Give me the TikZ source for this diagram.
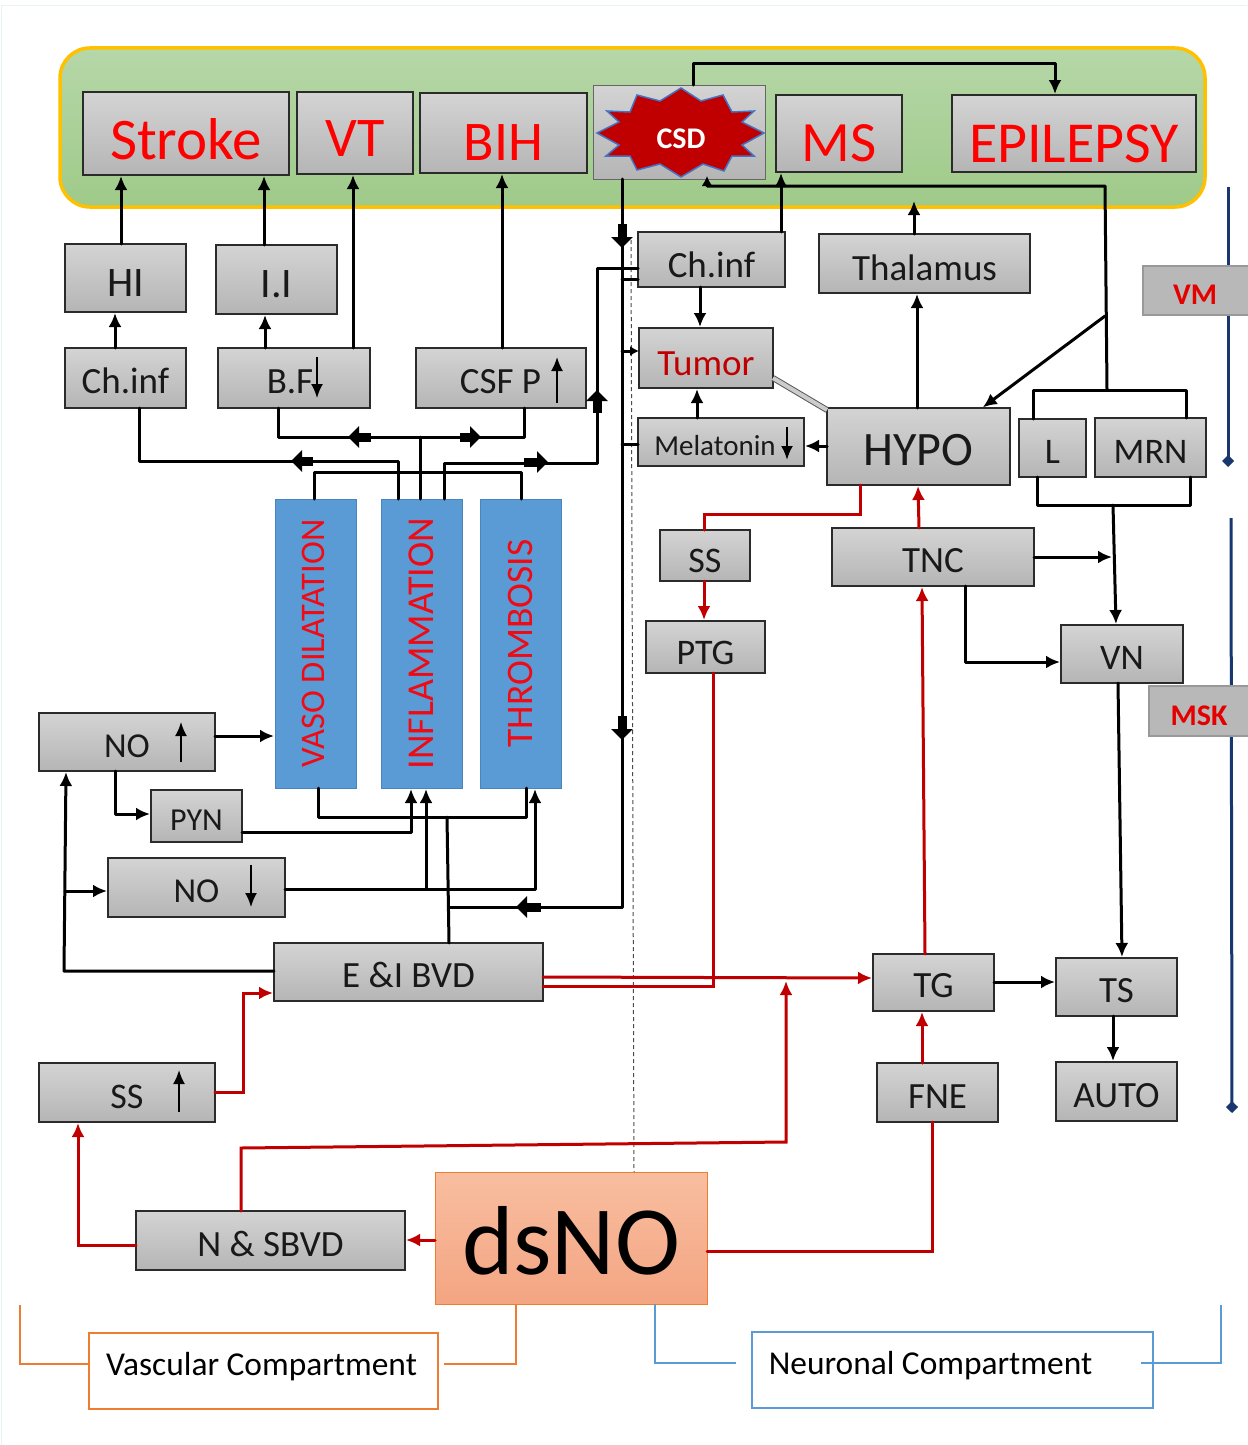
\documentclass[tikz,border=0pt]{standalone}
\usepackage{fontspec}
\usepackage{graphicx}
\setmainfont{Carlito}
\usetikzlibrary{arrows.meta}
\definecolor{dred}{HTML}{C00000}
\definecolor{lred}{HTML}{F00A14}
\definecolor{boxline}{HTML}{2B2B2B}
\definecolor{navyl}{HTML}{17376E}
\definecolor{bluefill}{HTML}{5B9BD5}
\definecolor{blueline}{HTML}{4A86BD}
\definecolor{panelTop}{HTML}{B6D7A8}
\definecolor{panelBot}{HTML}{9FCA89}
\definecolor{orangeL}{HTML}{ED7D31}
\definecolor{blueL}{HTML}{5B9BD5}
\newcommand{\fs}[1]{\fontsize{#1}{#1}\selectfont}
% \dn{N}{text}: set text N px lower than the centre of its box; \upby the reverse
\newcommand{\dn}[2]{\setbox0=\hbox{#2}\rule{0pt}{\dimexpr\ht0+#1pt+#1pt\relax}\box0}
\newcommand{\upby}[2]{\setbox0=\hbox{#2}\rule[\dimexpr-\dp0-#1pt-#1pt\relax]{0pt}{0pt}\box0}
\tikzset{
  box/.style={draw=boxline,line width=1.7pt,top color=black!17,bottom color=black!29,inner sep=0pt,outer sep=0pt,text=black!90},
  greybox/.style={draw=black!40,line width=1.5pt,fill=black!28,inner sep=0pt,outer sep=0pt},
  bluebox/.style={draw=blueline,line width=1pt,fill=bluefill,inner sep=0pt,outer sep=0pt},
  wire/.style={draw=black,line width=3pt,line cap=round,line join=round},
  arr/.style={wire,-{Latex[length=14pt,width=13pt]},shorten >=1pt},
  rwire/.style={draw=dred,line width=3pt,line cap=round,line join=miter},
  rarr/.style={rwire,-{Latex[length=14pt,width=13pt]},shorten >=1pt},
  blk/.style={draw=black,line width=9pt,-{Triangle[length=11pt,width=21pt]}},
  thinarr/.style={draw=black,line width=2pt,-{Latex[length=14pt,width=12pt]}},
  orangewire/.style={draw=orangeL,line width=2.5pt},
  bluewire/.style={draw=blueL,line width=2.5pt},
  navy/.style={navyl,line width=3pt,-{Turned Square[length=12pt,width=12pt]}},
}
\newcommand{\bx}[7][box]{\node[#1,minimum width={(#5-#3)*1pt},minimum height={(#6-#4)*1pt}] (#2) at ({(#3+#5)/2},{(#4+#6)/2}) {#7};}
\begin{document}
\begin{tikzpicture}[x=1pt,y=-1pt]
\useasboundingbox (0,0) rectangle (1247,1445);
\fill[white] (0,0) rectangle (1247,1445);
\coordinate (edgeA) at (1,1445);
\coordinate (edgeB) at (1,6);
\coordinate (edgeC) at (1247,6);
\draw[draw={rgb,255:red,232;green,244;blue,244},line width=1pt] (edgeA) -- (edgeB) -- (edgeC);
% green panel
\node[draw={rgb,255:red,255;green,192;blue,0},line width=3.5pt,top color=panelTop,bottom color=panelBot,rounded corners=30pt,minimum width=1145pt,minimum height=159pt,inner sep=0pt] (panel) at (632.5,127.5) {};
% dashed guide
\coordinate (dashA) at (631,240);
\coordinate (dashB) at (634,1172);
\draw[black!70,line width=1pt,dash pattern=on 4pt off 3pt] (dashA) -- (dashB);
% side rules
\coordinate (vmTop) at (1228,187);
\coordinate (vmEnd) at (1228,467);
\coordinate (mskTop) at (1231,518);
\coordinate (mskEnd) at (1232,1113);
\draw[navy] (vmTop) -- (vmEnd);
\draw[navy] (mskTop) -- (mskEnd);
% boxes
\bx{stroke}{83}{92}{289}{175}{\dn{6}{\fs{59}\textcolor{red}{Stroke}}}
\bx{vt}{297}{92}{413}{174}{\dn{6}{\fs{56}\textcolor{red}{VT}}}
\bx{bih}{420}{93}{587}{173}{\dn{10}{\fs{56}\textcolor{red}{BIH}}}
\bx[box,draw=black!60,line width=1pt]{csd}{593}{85}{765}{179}{}
\bx{ms}{776}{95}{902}{172}{\dn{10}{\fs{57}\textcolor{red}{MS}}}
\bx{epi}{952}{95}{1196}{172}{\dn{10}{\fs{58}\textcolor{red}{EPILEPSY}}}
\bx{hi}{65}{244}{186}{312}{\dn{5}{\fs{42}HI}}
\bx{ii}{216}{245}{337}{314}{\dn{5}{\fs{42}I.I}}
\bx{chl}{65}{348}{186}{408}{\dn{3}{\fs{37}Ch.inf}}
\bx{bf}{218}{348}{370}{408}{\hspace*{-4pt}\dn{4}{\fs{37}B.F}\hspace*{4pt}}
\bx{csf}{416}{348}{586}{408}{\hspace*{-1pt}\dn{4}{\fs{37}CSF P}}
\bx{chr}{638}{232}{785}{287}{\dn{5}{\fs{37}Ch.inf}}
\bx{thal}{819}{234}{1030}{293}{\dn{4}{\fs{37}Thalamus}}
\bx[greybox]{vm}{1143}{266}{1250}{315}{\hspace*{-3pt}\dn{4}{\fs{30}\textcolor{red!90!black}{\bfseries VM}}}
\bx{tumor}{639}{328}{773}{388}{\dn{6}{\fs{37}\textcolor{dred}{Tumor}}}
\bx{mel}{638}{418}{804}{466}{\hspace*{-12pt}\dn{4}{\fs{29}Melatonin}}
\bx{hypo}{827}{408}{1010}{485}{\dn{4}{\fs{48}HYPO}}
\bx{ll}{1019}{419}{1086}{477}{\dn{4}{\fs{36}L}}
\bx{mrn}{1095}{418}{1206}{477}{\dn{4}{\fs{36}MRN}}
\bx{ssa}{660}{530}{750}{581}{\dn{5}{\fs{36}SS}}
\bx{tnc}{832}{528}{1034}{586}{\dn{4}{\fs{37}TNC}}
\bx{ptg}{646}{621}{765}{673}{\dn{6}{\fs{36}PTG}}
\bx{vn}{1061}{625}{1183}{683}{\dn{4}{\fs{36}VN}}
\bx[greybox]{msk}{1149}{686}{1250}{736}{\hspace*{-1pt}\dn{5}{\fs{30}\textcolor{red!90!black}{\bfseries MSK}}}
\bx[bluebox]{vaso}{275}{499}{356}{788}{\hspace*{-5pt}\rotatebox{90}{\fs{34.5}\textcolor{lred}{VASO DILATATION}}}
\bx[bluebox]{infl}{381}{499}{462}{788}{\rotatebox{90}{\fs{38}\textcolor{lred}{INFLAMMATION}}}
\bx[bluebox]{thr}{480}{499}{561}{788}{\rotatebox{90}{\fs{37.5}\textcolor{lred}{THROMBOSIS}}}
\bx{noup}{39}{713}{215}{771}{\dn{4}{\fs{35}NO}}
\bx{pyn}{151}{790}{242}{842}{\dn{4}{\fs{32}PYN}}
\bx{nodn}{108}{858}{285}{917}{\dn{4}{\fs{35}NO}}
\bx{ebvd}{274}{943}{543}{1001}{\dn{3}{\fs{37}E \&I BVD}}
\bx{tg}{873}{954}{994}{1011}{\dn{3}{\fs{37}TG}}
\bx{ts}{1056}{958}{1177}{1016}{\dn{4}{\fs{37}TS}}
\bx{ssb}{39}{1063}{215}{1122}{\dn{4}{\fs{36}SS}}
\bx{fne}{877}{1063}{998}{1122}{\dn{4}{\fs{37}FNE}}
\bx{auto}{1056}{1062}{1177}{1121}{\dn{4}{\fs{37}AUTO}}
\bx{nbvd}{136}{1211}{405}{1270}{\dn{3}{\fs{37}N \& SBVD}}
\bx[draw=orangeL,line width=1pt,top color={rgb,255:red,248;green,190;blue,160},bottom color={rgb,255:red,244;green,165;blue,130},inner sep=0pt,outer sep=0pt]{dsno}{435}{1172}{707}{1304}{\dn{3}{\fs{98}dsNO}}
\bx[draw=orangeL,line width=1.5pt,fill=white,inner sep=0pt,outer sep=0pt]{vasc}{89}{1333}{438}{1409}{\hspace*{-4pt}\upby{4}{\fs{33.4}Vascular Compartment}}
\bx[draw=blueL,line width=1.5pt,fill=white,inner sep=0pt,outer sep=0pt]{neur}{752}{1332}{1153}{1408}{\hspace*{-44pt}\upby{4}{\fs{33.4}Neuronal Compartment}}
% CSD burst
\draw[fill=dred,draw={rgb,255:red,68;green,114;blue,196},line width=1.5pt]
 (681,88)--(701,101)--(723,95)--(732,112)--(754,111)--(742,122)--(764,133)--(742,145)--(754,156)--(732,156)--(724,171)--(703,164)--(681,177)--(660,164)--(637,170)--(630,156)--(606,156)--(619,145)--(597,133)--(619,122)--(607,111)--(630,112)--(637,95)--(660,101)--cycle;
\node[text=white,inner sep=0pt] (csdt) at (681,139) {\fs{30}\bfseries CSD};
% named junctions
\coordinate (spineA) at (622,351);
\coordinate (spineB) at (622,444);
\coordinate (spineC) at (622,279);
\coordinate (spineEnd) at (622,907);
\coordinate (wireTop) at (1105,186);
\coordinate (diag) at (1105,316);
\coordinate (brTop) at (1107,390);
\coordinate (brBot) at (1113,505);
\coordinate (jB) at (420,437);
\coordinate (jV) at (447,817);
\coordinate (jE) at (450,907);
\coordinate (jN) at (426,889);
\coordinate (jL) at (65,891);
\coordinate (csdIn) at (707,176);
\coordinate (panelIn) at (914,200);
% black connectors
\draw[arr] (hi.north -| 121,0) -- (stroke.south -| 121,0);
\draw[arr] (ii.north -| 264,0) -- (stroke.south -| 264,0);
\draw[arr] (chl.north -| 115,0) -- (hi.south -| 115,0);
\draw[arr] (bf.north -| 265,0) -- (ii.south -| 265,0);
\draw[arr] (bf.north -| 353,0) -- (vt.south -| 353,0);
\draw[arr] (csf.north -| 502,0) -- (bih.south -| 502,0);
\draw[arr] (csd.north -| 693,0) -- (693,64) -- (1055,64) -- (epi.north -| 1055,0);
\draw[wire] (csd.south -| 622,0) -- (spineEnd) -- (jE);
\draw[arr] (chr.north -| 781,0) -- (ms.south -| 781,0);
\draw[wire] (ll.north -| 1033,0) -- (1033,390) -- (1186,390) -- (mrn.north -| 1186,0);
\draw[wire,-{Latex[length=10pt,width=11pt]},shorten >=0pt] (brTop) -- (wireTop) -- (707,186) -- (csdIn);
\draw[arr] (diag) -- (hypo.north -| 982,0);
\draw[arr] (hypo.north -| 917,0) -- (thal.south -| 917,0);
\draw[arr] (thal.north -| 914,0) -- (panelIn);
\draw[arr] (chr.south -| 700,0) -- (tumor.north -| 700,0);
\draw[arr] (mel.north -| 697,0) -- (tumor.south -| 697,0);
\draw[arr] (hypo.west |- 0,446) -- (mel.east |- 0,446);
\draw[draw=black!65,double=black!20,double distance=4pt,line width=1pt] (tumor.east |- 0,378) -- (hypo.west |- 0,410);
\draw[wire,-{Latex[length=9pt,width=10pt]}] (spineA) -- (tumor.west |- spineA);
\draw[wire] (spineB) -- (mel.west |- spineB);
\draw[wire] (spineC) -- (chr.west |- spineC);
\draw[wire] (infl.north -| 444,0) -- (444,463) -- (597,463) -- (597,268) -- (chr.west |- 0,268);
\draw[wire] (infl.north -| 398,0) -- (398,461) -- (139,461) -- (chl.south -| 139,0);
\draw[wire] (infl.north -| 420,0) -- (jB);
\draw[wire] (bf.south -| 278,0) -- (278,437) -- (524,437) -- (csf.south -| 524,0);
\draw[wire] (vaso.north -| 314,0) -- (314,472) -- (521,472) -- (thr.north -| 521,0);
\draw[arr] (noup.east |- 0,736) -- (vaso.west |- 0,736);
\draw[arr] (noup.south -| 115,0) -- (115,814) -- (pyn.west |- 0,814);
\draw[arr] (pyn.east |- 0,832) -- (411,832) -- (infl.south -| 411,0);
\draw[arr] (nodn.east |- 0,889) -- (535,889) -- (thr.south -| 535,0);
\draw[arr] (jN) -- (infl.south -| 426,0);
\draw[wire] (vaso.south -| 318,0) -- (318,817) -- (526,817) -- (thr.south -| 526,0);
\draw[wire] (ebvd.north -| 449,0) -- (jV);
\draw[arr] (ebvd.west |- 0,971) -- (64,971) -- (noup.south -| 66,0);
\draw[arr] (jL) -- (nodn.west |- jL);
\draw[wire] (ll.south -| 1037,0) -- (1037,505) -- (1190,505) -- (mrn.south -| 1190,0);
\draw[arr] (brBot) -- (vn.north -| 1116,0);
\coordinate (tncEnd) at (1113,557);
\draw[arr] (tnc.east |- tncEnd) -- (tncEnd);
\draw[arr] (tnc.south -| 965,0) -- (965,662) -- (vn.west |- 0,662);
\draw[arr] (vn.south -| 1118,0) -- (ts.north -| 1122,0);
\draw[arr] (tg.east |- 0,982) -- (ts.west |- 0,982);
\draw[arr] (ts.south -| 1113,0) -- (auto.north -| 1113,0);
% block arrows
\draw[blk] (622,224) -- (622,248);
\draw[blk] (622,716) -- (622,740);
\draw[blk] (541,907) -- (516,907);
\draw[blk] (371,437) -- (348,437);
\draw[blk] (460,437) -- (481,437);
\draw[blk] (313,461) -- (291,461);
\draw[blk] (524,462) -- (548,462);
\draw[blk] (597,413) -- (597,390);
% red connectors
\draw[rwire] (hypo.south -| 860,0) -- (860,514) -- (704,514) -- (ssa.north -| 704,0);
\draw[rarr] (ssa.south -| 704,0) -- (ptg.north -| 704,0);
\draw[rarr] (tnc.north -| 919,0) -- (hypo.south -| 918,0);
\draw[rarr] (tg.north -| 925,0) -- (tnc.south -| 922,0);
\draw[rarr] (fne.north -| 922,0) -- (tg.south -| 922,0);
\draw[rwire] (ptg.south -| 713,0) -- (713,986) -- (ebvd.east |- 0,986);
\draw[rarr] (ebvd.east |- 0,977) -- (tg.west |- 0,978);
\draw[rarr] (ssb.east |- 0,1092) -- (243,1092) -- (243,993) -- (ebvd.west |- 0,993);
\draw[rwire] (dsno.east |- 0,1251) -- (932,1251) -- (fne.south -| 932,0);
\draw[rarr] (dsno.west |- 0,1240) -- (nbvd.east |- 0,1240);
\draw[rarr] (nbvd.west |- 0,1245) -- (78,1245) -- (ssb.south -| 78,0);
\coordinate (redUp) at (786,980);
\draw[rarr] (nbvd.north -| 241,0) -- (241,1148) -- (786,1142) -- (redUp);
% compartment brackets
\draw[orangewire] (20,1305) -- (20,1364) -- (vasc.west |- 0,1364);
\coordinate (orR) at (444,1364);
\draw[orangewire] (orR) -- (516,1364) -- (dsno.south -| 516,0);
\coordinate (blL) at (736,1363);
\draw[bluewire] (dsno.south -| 655,0) -- (655,1363) -- (blL);
\coordinate (blR) at (1141,1363);
\draw[bluewire] (blR) -- (1221,1363) -- (1221,1305);
% arrows inside boxes
\draw[thinarr] (noup.south -| 181,0) ++(0,-9) -- (181,722);
\draw[thinarr] (nodn.north -| 251,0) ++(0,7) -- (251,907);
\draw[thinarr] (ssb.south -| 179,0) ++(0,-10) -- (179,1070);
\draw[thinarr] (bf.north -| 317,0) ++(0,9) -- (317,398);
\draw[thinarr] (csf.south -| 557,0) ++(0,-5) -- (557,357);
\draw[thinarr,line width=2.5pt] (mel.north -| 787,0) ++(0,9) -- (787,460);
\end{tikzpicture}
\end{document}
